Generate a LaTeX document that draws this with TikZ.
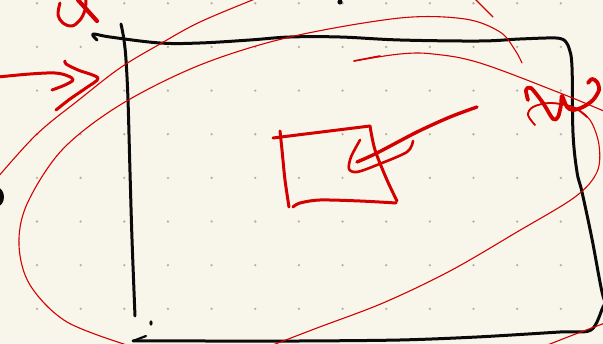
\documentclass[tikz,border=0pt]{standalone}
\definecolor{paper}{RGB}{248,246,235}
\definecolor{griddot}{RGB}{178,178,170}
\definecolor{inkred}{RGB}{212,0,0}
\definecolor{inkblack}{RGB}{10,10,10}
\tikzset{
  blackpen/.style={draw=inkblack,line width=3pt,line cap=round,line join=round},
  redpen/.style={draw=inkred,line width=3pt,line cap=round,line join=round},
  redthin/.style={draw=inkred,line width=1.1pt,line cap=round,line join=round},
  griddotstyle/.style={fill=griddot},
}
\begin{document}
\begin{tikzpicture}[x=1pt,y=-1pt]
\useasboundingbox (0,0) rectangle (603,344);
\fill[paper] (0,0) rectangle (603,344);
\begin{scope}
\clip (0,0) rectangle (603,344);
% dot grid
\foreach \i in {0,...,12}{
  \foreach \j in {0,...,7}{
    \fill[griddotstyle] ({37+43.65*\i},{3.3+43.65*\j}) circle (1.3);
  }
}
% ---------- black quadrilateral ----------
\draw[blackpen] plot[smooth,tension=0.6] coordinates {(97,40) (93,34) (110,37) (160,43) (200,43) (250,40) (290,37) (340,37) (400,40) (480,41) (520,39) (556,38) (565,41)};
\draw[blackpen] plot[smooth,tension=0.6] coordinates {(565,41) (569,48) (572,67) (573,133) (577,172) (582,192) (592,239) (602,292) (607,305)};
\draw[blackpen] plot[smooth,tension=0.5] coordinates {(606,302) (603,307) (591,330) (560,332) (477,337) (400,340) (300,341) (200,341) (140,341) (133,341)};
\draw[blackpen,line width=2.2pt] (133,341) -- (146,336);
\draw[blackpen] plot[smooth,tension=0.6] coordinates {(121,24) (124,40) (126,60) (128,100) (130,172) (132,239) (135,316)};
\fill[inkblack] (151,323) ellipse (1.6 and 2.6);
\fill[inkblack] (-3,197) ellipse (7 and 9.5);
\fill[inkblack] (340,2) circle (2.6);
% ---------- red thin strokes ----------
\draw[redthin] plot[smooth,tension=0.6] coordinates {(-2,177) (37,134) (80,99) (120,68) (160,44) (200,22) (255,-1)};
\draw[redthin] plot[smooth,tension=0.55] coordinates {(133,347) (67,322) (30,285) (19,245) (27,204) (62,150) (120,105) (200,65) (290,37) (400,18) (465,19) (500,32) (515,50) (522,63)};
\draw[redthin] plot[smooth,tension=0.6] coordinates {(354,61) (400,54) (433,54) (480,63) (560,93) (606,112)};
\draw[redthin,line width=1.6pt] (354,61) -- (380,56);
\draw[redthin] plot[smooth,tension=0.55] coordinates {(535,125) (528,115) (533,107) (550,103) (573,107) (590,120) (599,145) (597,172) (575,197) (517,232) (450,271) (383,303) (317,328) (265,348)};
\draw[redthin,line width=1.8pt] plot[smooth,tension=0.55] coordinates {(535,125) (528,115) (533,107) (550,103) (573,107) (587,117)};
\draw[redthin] plot[smooth,tension=0.6] coordinates {(545,346) (573,335) (605,323)};
\draw[redthin] (475,-1) -- (493,17);
% ---------- red thick marks ----------
% top-left mark
\draw[redpen] plot[smooth,tension=0.6] coordinates {(60,3) (58,15) (63,23) (72,26) (80,20) (85,10) (86,-1)};
\draw[redpen,line width=4.2pt] (78,0) -- (97,21);
% left arrow
\draw[redpen] plot[smooth,tension=0.6] coordinates {(-2,77) (30,74) (55,73) (68,76) (73,80) (65,85) (52,90)};
\draw[redpen] plot[smooth,tension=0.5] coordinates {(65,61) (66,64) (78,70) (98,78) (86,88) (70,99) (56,110)};
% right x-mark
\draw[redpen,line width=3.8pt] plot[smooth,tension=0.5] coordinates {(528,100) (526,90) (531,88) (543,103) (553,119) (558,117) (561,105) (562,96) (567,107) (573,110) (583,107) (593,100) (599,90) (597,82) (592,79) (588,83)};
% centre square
\draw[redpen] (273,138) -- (370,126);
\draw[redpen] plot[smooth,tension=0.5] coordinates {(280,131) (282,150) (285,180) (289,207)};
\draw[redpen] plot[smooth,tension=0.5] coordinates {(293,207) (300,203) (320,200) (360,201) (396,203)};
\draw[redpen] plot[smooth,tension=0.5] coordinates {(370,126) (375,150) (387,180) (397,201)};
% pen
\draw[redpen,line width=3.4pt] plot[smooth,tension=0.5] coordinates {(477,107) (450,117) (417,132) (377,153) (357,162)};
\draw[redpen,line width=2.6pt] plot[smooth,tension=0.5] coordinates {(360,140) (351,157) (349,169) (357,172) (377,165) (407,152) (413,141)};
\end{scope}
\end{tikzpicture}
\end{document}
